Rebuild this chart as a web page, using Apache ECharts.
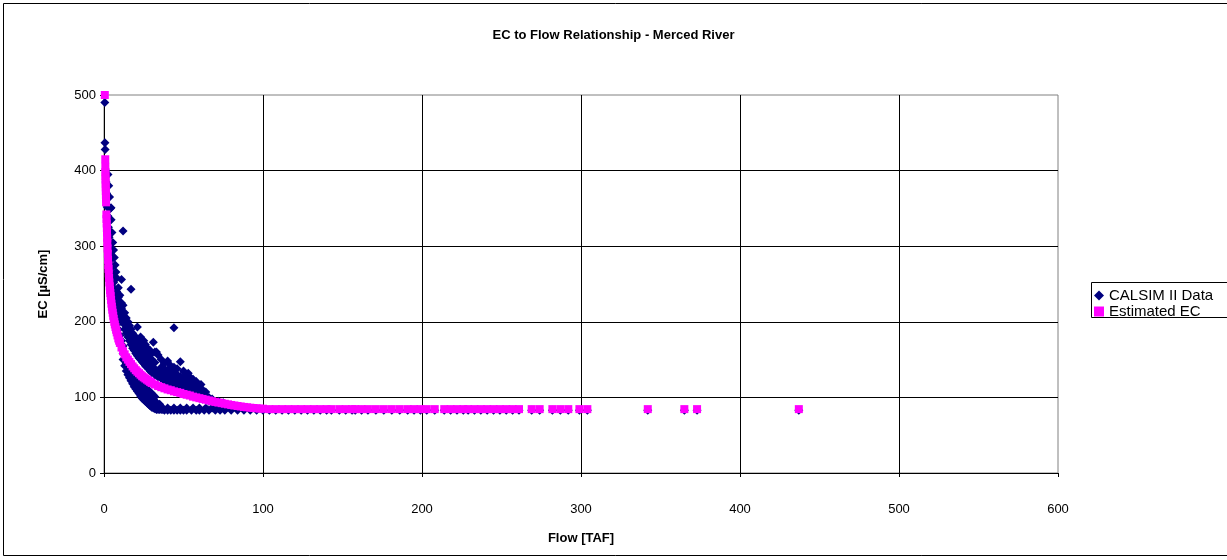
<!DOCTYPE html>
<html>
<head>
<meta charset="utf-8">
<script src="https://cdn.jsdelivr.net/npm/echarts@6/dist/echarts.min.js"></script>
<style>
  html, body { margin: 0; padding: 0; background: #fff; }
  #chart { width: 1227px; height: 560px; }
</style>
</head>
<body>
<div id="chart"></div>
<script>
// CALSIM II monthly data (flow in TAF, EC in uS/cm)
// steep part near zero flow
var steepFlow = [0.5, 0.6, 0.7, 1, 1.3, 1.6, 2, 2.4, 2.8, 3.2, 3.6, 4, 4.4, 4.5, 5, 5.5, 6, 6.5, 7, 7.5, 8, 8.5, 9, 9.5, 10,
  2.5, 3, 3.5, 4, 4.5, 5, 5.5, 6, 6.5, 7, 7.5, 8, 9, 10, 11, 3, 4, 5, 6, 7, 8, 9, 10, 11, 12];
var steepEC = [490, 437, 428, 400, 385, 370, 352, 340, 325, 312, 300, 290, 351, 282, 272, 262, 252, 244, 236, 228, 222, 216, 210, 205, 200,
  395, 380, 365, 350, 335, 318, 305, 295, 285, 275, 266, 258, 245, 235, 225, 280, 260, 240, 225, 212, 200, 190, 182, 175, 168];

// scatter above the estimated curve
var upperFlow = [11, 12, 17, 44,
  8, 8, 9, 9, 10, 10, 11, 11, 12, 12, 12, 13, 13, 13, 14, 14, 14, 15, 15, 15, 16, 16, 16, 17, 17, 17,
  18, 18, 18, 19, 19, 19, 20, 20, 20, 21, 21, 21, 21, 22, 22, 22, 23, 23, 23, 23, 24, 24, 24, 25, 25, 25, 25,
  26, 26, 26, 26, 27, 27, 27, 27, 28, 28, 28, 28, 29, 29, 29, 29, 30, 30, 30, 30, 31, 32, 32, 32, 32, 33, 34, 34, 34,
  36, 36, 36, 36, 38, 38, 38, 38, 40, 40, 40, 40, 42, 42, 42, 42, 44, 44, 44, 44, 46, 46, 46, 46, 48, 48, 48, 48,
  50, 50, 50, 50, 52, 52, 52, 52, 53, 54, 54, 54, 54, 56, 56, 56, 56, 58, 58, 58, 58, 60, 60, 60, 61, 62, 62, 62,
  64, 64, 64, 66, 66, 68, 68, 72, 72, 75, 75, 80];
var upperEC = [256, 320, 243, 192,
  230, 240, 222, 232, 210, 225, 205, 218, 198, 210, 222, 190, 200, 212, 185, 195, 205, 180, 190, 200, 175, 185, 195, 170, 180, 190,
  165, 175, 185, 162, 172, 182, 158, 168, 178, 155, 165, 175, 193, 152, 162, 172, 150, 160, 170, 180, 147, 157, 165, 145, 155, 163, 175,
  142, 150, 160, 170, 140, 148, 158, 166, 138, 146, 155, 163, 135, 143, 152, 162, 133, 140, 150, 158, 173, 130, 138, 146, 160, 160, 127, 135, 156,
  125, 132, 140, 150, 122, 130, 138, 145, 120, 128, 136, 148, 118, 126, 134, 142, 116, 124, 132, 140, 114, 122, 130, 138, 112, 120, 128, 147,
  110, 118, 126, 135, 108, 115, 122, 130, 132, 106, 113, 120, 127, 104, 110, 117, 124, 102, 108, 114, 121, 100, 106, 112, 117, 98, 104, 110,
  97, 102, 107, 95, 100, 94, 98, 92, 95, 90, 93, 88];

// scatter below the estimated curve
var lowerFlow = [12, 12, 13, 13, 14, 14, 15, 15, 16, 16, 16, 17, 17, 17, 18, 18, 18, 19, 19, 19, 20, 20, 20, 21, 21, 21,
  22, 22, 22, 23, 23, 23, 24, 24, 24, 24, 25, 25, 25, 25, 26, 26, 26, 26, 27, 27, 27, 27, 28, 28, 28, 28,
  29, 29, 29, 29, 30, 30, 30, 30, 31, 31, 31, 31, 32, 32, 32, 32, 33, 33, 33, 35, 35, 35, 37, 37];
var lowerEC = [150, 158, 142, 150, 135, 145, 130, 140, 126, 136, 142, 122, 130, 138, 118, 126, 134, 114, 122, 130, 111, 119, 127, 108, 115, 123,
  105, 112, 120, 102, 109, 116, 99, 106, 113, 120, 97, 104, 110, 117, 95, 101, 108, 114, 93, 99, 105, 111, 91, 97, 103, 109,
  89, 95, 101, 107, 87, 93, 99, 105, 86, 91, 97, 103, 85, 89, 95, 101, 84, 88, 93, 84, 87, 91, 84, 86];

// the floor near 84 uS/cm
var floorFlow = [34, 36, 38, 40, 42, 44, 46, 48, 50, 52, 55, 58, 60, 63, 66, 70, 73, 76, 80, 84, 88, 92, 96, 100,
  104, 108, 112, 116, 120, 124, 128, 132, 136, 140, 143, 148, 152, 156, 158, 162, 166, 171, 176, 181, 186, 191, 195,
  199, 203, 208, 214, 218, 222, 226, 229, 233, 237, 241, 245, 249, 253, 257, 261, 269, 274, 282, 287, 292, 299, 304,
  342, 365, 373, 437,
  36, 40, 44, 48, 52, 56, 60, 64, 68, 72, 76, 80];
var floorEC = [84, 84, 83, 83, 83, 83, 83, 83, 83, 83, 83, 83, 83, 83, 83, 83, 83, 83, 83, 83, 83, 83, 83, 83,
  83, 83, 83, 83, 83, 83, 83, 83, 83, 83, 83, 83, 83, 83, 83, 83, 83, 83, 83, 83, 83, 83, 83,
  83, 83, 83, 83, 83, 83, 83, 83, 83, 83, 83, 83, 83, 83, 83, 83, 83, 83, 83, 83, 83, 83, 83,
  83, 83, 83, 83,
  86, 86, 86, 86, 86, 86, 86, 86, 86, 85.5, 85.5, 85.5];

// Estimated EC curve
var estFlow = [
  0.5, 0.8, 0.85, 0.9, 0.95, 1, 1.05, 1.1, 1.15, 1.2, 1.25, 1.3, 1.5, 1.6, 1.7, 1.8, 1.9, 2, 2.1, 2.25, 2.4, 2.55, 2.7, 2.85,
  3, 3.2, 3.4, 3.6, 3.8, 4, 4.2, 4.45, 4.7, 4.95, 5.2, 5.5, 5.8, 6.1, 6.5, 6.8, 7.2, 7.6, 8, 8.5, 9, 9.5,
  10, 11, 12, 13, 14, 15, 16, 17, 18, 19, 20, 21, 22, 23, 24, 25, 26, 27, 28, 29,
  30, 32, 34, 36, 38, 40, 42, 44, 46, 48, 50, 52, 54, 56, 58, 60, 62, 64, 66, 68, 70,
  72, 74, 76, 78, 80, 82, 84, 86, 88, 90, 92, 94, 96, 98, 100,
  104, 108, 112, 116, 120, 124, 128, 132, 136, 140, 143, 148, 152, 156, 158, 162, 166, 171, 176, 181, 186, 191, 195,
  199, 203, 208, 214, 218, 222, 226, 229, 233, 237, 241, 245, 249, 253, 257, 261, 269, 274, 282, 287, 292, 299, 304,
  342, 365, 373, 437
];
var estEC = [
  500, 415, 405, 398, 393, 388, 383, 378, 373, 368, 363, 358, 342, 336, 330, 324, 318, 311, 305, 297, 290, 282, 275, 270,
  264, 258, 252, 247, 242, 238, 234, 229, 224, 220, 216, 212, 208, 204, 200, 196.5, 193, 189.5, 186, 182, 178, 175,
  172, 166, 161, 157, 153, 150, 147, 144, 141, 138.5, 136, 134, 132, 130, 128, 126.5, 125, 123.5, 122, 120.5,
  119, 117, 115, 113.5, 112, 110.5, 109.5, 108, 107, 106, 104.5, 103.5, 102.5, 101, 100, 99, 98, 97, 96, 95, 94,
  93.2, 92.4, 91.6, 90.8, 90, 89.3, 88.6, 88, 87.4, 86.9, 86.4, 86, 85.6, 85.2, 85,
  84.5, 84.5, 84.5, 84.5, 84.5, 84.5, 84.5, 84.5, 84.5, 84.5, 84.5, 84.5, 84.5, 84.5, 84.5, 84.5, 84.5, 84.5, 84.5, 84.5, 84.5, 84.5, 84.5,
  84.5, 84.5, 84.5, 84.5, 84.5, 84.5, 84.5, 84.5, 84.5, 84.5, 84.5, 84.5, 84.5, 84.5, 84.5, 84.5, 84.5, 84.5, 84.5, 84.5, 84.5, 84.5, 84.5,
  84.5, 84.5, 84.5, 84.5
];

var zip = function (xs, ys) {
  return xs.map(function (x, i) { return [x, ys[i]]; });
};

var calsimData = zip(steepFlow, steepEC)
  .concat(zip(upperFlow, upperEC))
  .concat(zip(lowerFlow, lowerEC))
  .concat(zip(floorFlow, floorEC));

var font = 'Arial, "Liberation Sans", sans-serif';
var chart = echarts.init(document.getElementById('chart'), null, { renderer: 'canvas' });

var option = {
  backgroundColor: '#fff',
  animation: false,
  title: {
    text: 'EC to Flow Relationship - Merced River',
    left: 'center',
    top: 24,
    textStyle: { fontFamily: font, fontSize: 13, fontWeight: 'bold', color: '#000' }
  },
  legend: {
    orient: 'vertical',
    left: 1094,
    top: 288,
    padding: 0,
    itemGap: 1,
    itemWidth: 10,
    itemHeight: 10,
    textStyle: { fontFamily: font, fontSize: 15, color: '#000' },
    data: [
      { name: 'CALSIM II Data', icon: 'diamond' },
      { name: 'Estimated EC', icon: 'rect' }
    ]
  },
  grid: {
    left: 104,
    right: 169,
    top: 95,
    bottom: 87,
    show: true,
    borderColor: '#808080',
    borderWidth: 1
  },
  xAxis: {
    type: 'value',
    min: 0,
    max: 600,
    interval: 100,
    name: 'Flow [TAF]',
    nameLocation: 'middle',
    nameGap: 59,
    nameTextStyle: { fontFamily: font, fontSize: 13, fontWeight: 'bold', color: '#000' },
    axisLine: { show: true, lineStyle: { color: '#000' } },
    axisTick: { show: true, length: 4, lineStyle: { color: '#000' } },
    axisLabel: { margin: 30, fontFamily: font, fontSize: 13, color: '#000' },
    splitLine: { show: true, showMaxLine: false, lineStyle: { color: '#000', width: 1 } }
  },
  yAxis: {
    type: 'value',
    min: 0,
    max: 500,
    interval: 100,
    name: 'EC [µS/cm]',
    nameLocation: 'middle',
    nameGap: 54,
    nameTextStyle: { fontFamily: font, fontSize: 13, fontWeight: 'bold', color: '#000' },
    axisLine: { show: true, lineStyle: { color: '#000' } },
    axisTick: { show: true, length: 4, lineStyle: { color: '#000' } },
    axisLabel: { margin: 8, fontFamily: font, fontSize: 13, color: '#000' },
    splitLine: { show: true, showMaxLine: false, lineStyle: { color: '#000', width: 1 } }
  },
  series: [
    {
      name: 'CALSIM II Data',
      type: 'scatter',
      symbol: 'diamond',
      symbolSize: 9,
      itemStyle: { color: '#000080', opacity: 1 },
      data: calsimData,
      z: 2
    },
    {
      name: 'Estimated EC',
      type: 'scatter',
      symbol: 'rect',
      symbolSize: 8,
      itemStyle: { color: '#ff00ff', opacity: 1 },
      data: zip(estFlow, estEC),
      z: 3
    }
  ],
  graphic: [
    {
      type: 'rect',
      shape: { x: 3.5, y: 3.5, width: 1300, height: 552 },
      style: { fill: null, stroke: '#000', lineWidth: 1 },
      silent: true
    },
    {
      type: 'rect',
      shape: { x: 1091.5, y: 282.5, width: 200, height: 35 },
      style: { fill: null, stroke: '#000', lineWidth: 1 },
      silent: true
    }
  ]
};

chart.setOption(option);
</script>
</body>
</html>
